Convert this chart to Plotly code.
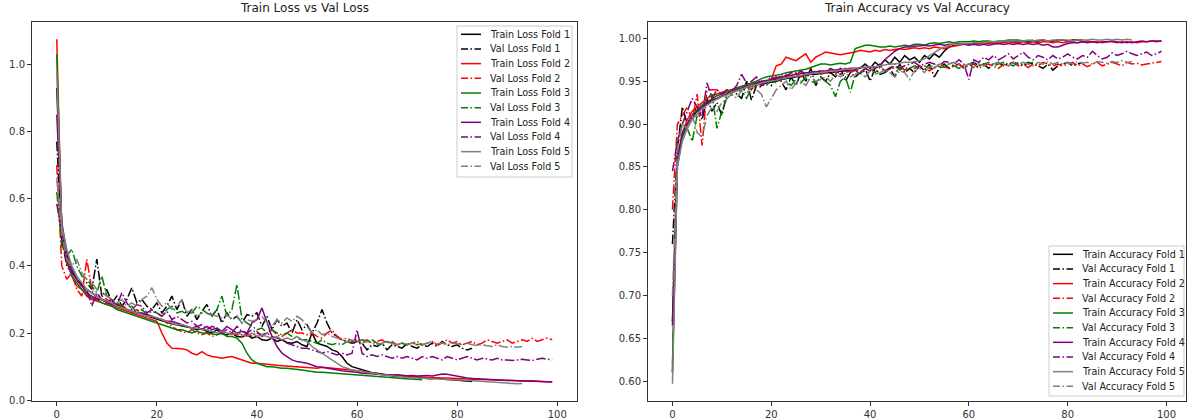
import plotly.graph_objects as go

# ---------------- data ----------------
folds = [1, 2, 3, 4, 5]
fold_colors = ["black", "red", "green", "purple", "gray"]

train_loss_f1 = [0.93, 0.52, 0.43, 0.39, 0.36, 0.345, 0.33, 0.32, 0.31, 0.30,
                 0.295, 0.29, 0.285, 0.275, 0.27, 0.265, 0.26, 0.255, 0.25, 0.245,
                 0.24, 0.235, 0.232, 0.228, 0.225, 0.22, 0.218, 0.215, 0.21, 0.212,
                 0.205, 0.2, 0.21, 0.198, 0.195, 0.2, 0.19, 0.188, 0.195, 0.185,
                 0.19, 0.18, 0.178, 0.185, 0.175, 0.18, 0.172, 0.17, 0.175, 0.165,
                 0.16, 0.2, 0.17, 0.165, 0.16, 0.15, 0.145, 0.13, 0.11, 0.1,
                 0.095, 0.09, 0.085, 0.082, 0.08, 0.078, 0.075, 0.072, 0.07, 0.072,
                 0.068, 0.07, 0.067, 0.066, 0.065, 0.064, 0.066, 0.063, 0.062, 0.061,
                 0.06, 0.058, 0.057, 0.056]
val_loss_f1 = [0.77, 0.48, 0.40, 0.38, 0.36, 0.34, 0.35, 0.33, 0.42, 0.31,
               0.33, 0.29, 0.31, 0.28, 0.30, 0.335, 0.29, 0.30, 0.28, 0.27,
               0.29, 0.26, 0.28, 0.31, 0.27, 0.30, 0.25, 0.27, 0.24, 0.265,
               0.285, 0.25, 0.27, 0.23, 0.26, 0.24, 0.25, 0.23, 0.255, 0.25,
               0.26, 0.22, 0.25, 0.21, 0.24, 0.22, 0.23, 0.2, 0.24, 0.21,
               0.225, 0.2, 0.23, 0.27, 0.23, 0.2, 0.19, 0.18, 0.175, 0.17,
               0.175, 0.17, 0.15, 0.165, 0.16, 0.17, 0.15, 0.165, 0.16, 0.155,
               0.17, 0.16, 0.155, 0.165, 0.16, 0.17, 0.16, 0.175, 0.165, 0.16,
               0.165, 0.155, 0.15, 0.155]
train_loss_f2 = [1.075, 0.5, 0.41, 0.37, 0.34, 0.33, 0.31, 0.30, 0.295, 0.29,
                 0.285, 0.28, 0.275, 0.27, 0.265, 0.26, 0.255, 0.25, 0.245, 0.24,
                 0.235, 0.2, 0.17, 0.155, 0.155, 0.153, 0.15, 0.14, 0.135, 0.145,
                 0.135, 0.13, 0.128, 0.125, 0.128, 0.13, 0.125, 0.12, 0.115, 0.11,
                 0.11, 0.108, 0.107, 0.105, 0.104, 0.103, 0.102, 0.1, 0.099, 0.1,
                 0.098, 0.097, 0.095, 0.098, 0.097, 0.096, 0.095, 0.094, 0.092, 0.09,
                 0.088, 0.085, 0.083, 0.08, 0.078, 0.076, 0.075, 0.074, 0.073, 0.072,
                 0.072, 0.071, 0.07, 0.069, 0.068, 0.068, 0.067, 0.066, 0.066, 0.065,
                 0.065, 0.064, 0.063, 0.063, 0.062, 0.062, 0.061, 0.06, 0.06, 0.06,
                 0.059, 0.059, 0.058, 0.058, 0.057, 0.058, 0.056, 0.056, 0.055, 0.055]
val_loss_f2 = [0.70, 0.40, 0.36, 0.38, 0.33, 0.31, 0.42, 0.33, 0.3, 0.31,
               0.3, 0.29, 0.28, 0.285, 0.27, 0.26, 0.27, 0.26, 0.255, 0.25,
               0.245, 0.24, 0.23, 0.22, 0.21, 0.205, 0.2, 0.21, 0.2, 0.195,
               0.2, 0.19, 0.195, 0.2, 0.19, 0.2, 0.195, 0.19, 0.2, 0.19,
               0.205, 0.19, 0.2, 0.21, 0.195, 0.19, 0.2, 0.21, 0.2, 0.2,
               0.195, 0.2, 0.19, 0.185, 0.2, 0.21, 0.19, 0.18, 0.185, 0.175,
               0.18, 0.175, 0.18, 0.17, 0.175, 0.18, 0.17, 0.175, 0.165, 0.17,
               0.165, 0.17, 0.175, 0.165, 0.17, 0.175, 0.165, 0.17, 0.18, 0.17,
               0.175, 0.165, 0.17, 0.175, 0.165, 0.17, 0.18, 0.175, 0.17, 0.175,
               0.18, 0.17, 0.175, 0.18, 0.175, 0.185, 0.175, 0.18, 0.185, 0.18]
train_loss_f3 = [1.03, 0.5, 0.42, 0.37, 0.35, 0.33, 0.315, 0.305, 0.3, 0.29,
                 0.285, 0.28, 0.27, 0.265, 0.26, 0.255, 0.25, 0.245, 0.24, 0.235,
                 0.23, 0.225, 0.22, 0.215, 0.21, 0.21, 0.205, 0.2, 0.205, 0.2,
                 0.2, 0.198, 0.195, 0.2, 0.19, 0.19, 0.185, 0.17, 0.14, 0.12,
                 0.11, 0.105, 0.1, 0.1, 0.097, 0.095, 0.095, 0.094, 0.093, 0.09,
                 0.088, 0.085, 0.083, 0.083, 0.082, 0.08, 0.08, 0.079, 0.078, 0.077,
                 0.075, 0.074, 0.073, 0.072, 0.07, 0.07, 0.069, 0.068, 0.066, 0.065,
                 0.064, 0.062, 0.062, 0.061]
val_loss_f3 = [0.62, 0.46, 0.43, 0.45, 0.40, 0.37, 0.36, 0.34, 0.32, 0.37,
               0.31, 0.3, 0.29, 0.28, 0.27, 0.28, 0.26, 0.27, 0.255, 0.265,
               0.26, 0.25, 0.27, 0.28, 0.26, 0.265, 0.255, 0.26, 0.28, 0.27,
               0.26, 0.25, 0.27, 0.31, 0.25, 0.27, 0.345, 0.24, 0.23, 0.22,
               0.21, 0.215, 0.2, 0.21, 0.2, 0.195, 0.2, 0.19, 0.185, 0.18,
               0.18, 0.175, 0.17, 0.18, 0.17, 0.165, 0.17, 0.165, 0.175, 0.17,
               0.175, 0.18, 0.175, 0.18, 0.17, 0.165, 0.175, 0.17, 0.165, 0.17,
               0.165, 0.17, 0.165, 0.168]
train_loss_f4 = [0.85, 0.53, 0.44, 0.39, 0.36, 0.34, 0.32, 0.31, 0.30, 0.3,
                 0.29, 0.285, 0.28, 0.275, 0.27, 0.265, 0.26, 0.26, 0.255, 0.25,
                 0.245, 0.24, 0.235, 0.235, 0.23, 0.225, 0.22, 0.215, 0.22, 0.21,
                 0.22, 0.21, 0.215, 0.205, 0.22, 0.21, 0.2, 0.205, 0.2, 0.23,
                 0.24, 0.275, 0.23, 0.19, 0.16, 0.14, 0.13, 0.12, 0.115, 0.113,
                 0.11, 0.105, 0.1, 0.098, 0.095, 0.092, 0.09, 0.088, 0.086, 0.085,
                 0.083, 0.08, 0.079, 0.078, 0.077, 0.076, 0.077, 0.075, 0.076, 0.074,
                 0.073, 0.074, 0.072, 0.073, 0.074, 0.072, 0.075, 0.078, 0.077, 0.074,
                 0.07, 0.068, 0.066, 0.065, 0.064, 0.063, 0.062, 0.061, 0.06, 0.06,
                 0.059, 0.058, 0.058, 0.057, 0.057, 0.056, 0.056, 0.055, 0.055, 0.054]
val_loss_f4 = [0.585, 0.5, 0.41, 0.38, 0.36, 0.34, 0.33, 0.28, 0.32, 0.3,
               0.29, 0.3, 0.28, 0.32, 0.29, 0.27, 0.285, 0.28, 0.26, 0.27,
               0.26, 0.25, 0.265, 0.24, 0.25, 0.24, 0.23, 0.235, 0.22, 0.225,
               0.21, 0.22, 0.215, 0.2, 0.21, 0.2, 0.22, 0.205, 0.2, 0.21,
               0.2, 0.195, 0.2, 0.19, 0.185, 0.18, 0.17, 0.165, 0.16, 0.155,
               0.155, 0.15, 0.145, 0.14, 0.145, 0.14, 0.135, 0.14, 0.135, 0.14,
               0.21, 0.14, 0.13, 0.135, 0.13, 0.135, 0.13, 0.125, 0.13, 0.125,
               0.13, 0.125, 0.12, 0.13, 0.125, 0.13, 0.125, 0.12, 0.13, 0.125,
               0.12, 0.125, 0.13, 0.125, 0.12, 0.125, 0.122, 0.12, 0.125, 0.12,
               0.12, 0.118, 0.12, 0.122, 0.12, 0.118, 0.122, 0.125, 0.122, 0.12]
train_loss_f5 = [0.98, 0.52, 0.45, 0.4, 0.37, 0.35, 0.33, 0.32, 0.31, 0.3,
                 0.295, 0.29, 0.28, 0.275, 0.27, 0.265, 0.26, 0.255, 0.25, 0.25,
                 0.245, 0.24, 0.235, 0.23, 0.225, 0.225, 0.22, 0.215, 0.215, 0.21,
                 0.21, 0.205, 0.2, 0.205, 0.2, 0.195, 0.2, 0.195, 0.19, 0.2,
                 0.19, 0.195, 0.19, 0.185, 0.19, 0.18, 0.185, 0.18, 0.19, 0.18,
                 0.175, 0.16, 0.15, 0.14, 0.13, 0.12, 0.11, 0.1, 0.095, 0.09,
                 0.088, 0.085, 0.082, 0.08, 0.078, 0.076, 0.074, 0.072, 0.07, 0.07,
                 0.068, 0.067, 0.066, 0.066, 0.065, 0.064, 0.063, 0.062, 0.062, 0.061,
                 0.06, 0.06, 0.059, 0.058, 0.058, 0.057, 0.056, 0.055, 0.052, 0.051,
                 0.05, 0.05, 0.049, 0.05]
val_loss_f5 = [0.66, 0.5, 0.42, 0.4, 0.42, 0.38, 0.36, 0.35, 0.33, 0.32,
               0.31, 0.3, 0.29, 0.3, 0.28, 0.29, 0.28, 0.3, 0.31, 0.335,
               0.3, 0.28, 0.29, 0.27, 0.28, 0.3, 0.26, 0.27, 0.25, 0.26,
               0.26, 0.255, 0.25, 0.245, 0.255, 0.24, 0.25, 0.23, 0.24, 0.235,
               0.24, 0.25, 0.23, 0.22, 0.24, 0.23, 0.245, 0.235, 0.25, 0.24,
               0.22, 0.2, 0.21, 0.195, 0.2, 0.19, 0.185, 0.18, 0.175, 0.18,
               0.175, 0.17, 0.175, 0.17, 0.165, 0.17, 0.175, 0.17, 0.165, 0.17,
               0.165, 0.17, 0.168, 0.165, 0.17, 0.175, 0.168, 0.17, 0.165, 0.17,
               0.168, 0.165, 0.17, 0.165, 0.163, 0.165, 0.162, 0.16, 0.165, 0.16,
               0.158, 0.16, 0.158, 0.16]

train_acc_f1 = [0.67, 0.86, 0.885, 0.9, 0.908, 0.915, 0.92, 0.924, 0.928, 0.93,
                0.932, 0.935, 0.937, 0.939, 0.941, 0.943, 0.944, 0.946, 0.947, 0.948,
                0.949, 0.95, 0.952, 0.953, 0.954, 0.955, 0.956, 0.957, 0.958, 0.958,
                0.959, 0.96, 0.96, 0.961, 0.962, 0.962, 0.963, 0.964, 0.965, 0.97,
                0.965, 0.972, 0.968, 0.975, 0.97, 0.978, 0.972, 0.98, 0.975, 0.978,
                0.972, 0.98, 0.976, 0.982, 0.978, 0.985, 0.99, 0.992, 0.993, 0.993,
                0.993, 0.994, 0.994, 0.995, 0.996, 0.995, 0.996, 0.996, 0.997, 0.996,
                0.997, 0.997, 0.996, 0.997, 0.997, 0.998, 0.997, 0.997, 0.998, 0.998,
                0.997, 0.998, 0.998, 0.998]
val_acc_f1 = [0.76, 0.87, 0.92, 0.9, 0.91, 0.92, 0.905, 0.93, 0.915, 0.925,
              0.91, 0.935, 0.94, 0.935, 0.93, 0.95, 0.928, 0.945, 0.943, 0.95,
              0.945, 0.955, 0.95, 0.94, 0.955, 0.945, 0.96, 0.95, 0.965, 0.945,
              0.955, 0.95, 0.96, 0.955, 0.965, 0.95, 0.96, 0.955, 0.96, 0.965,
              0.95, 0.965, 0.958, 0.96, 0.965, 0.955, 0.97, 0.96, 0.965, 0.96,
              0.968, 0.962, 0.97, 0.955, 0.965, 0.97, 0.965, 0.968, 0.97, 0.965,
              0.97, 0.972, 0.968, 0.97, 0.965, 0.97, 0.972, 0.968, 0.97, 0.972,
              0.97, 0.968, 0.972, 0.97, 0.968, 0.965, 0.97, 0.963, 0.968, 0.97,
              0.972, 0.968, 0.97, 0.972]
train_acc_f2 = [0.61, 0.855, 0.89, 0.905, 0.915, 0.92, 0.925, 0.93, 0.933, 0.935,
                0.937, 0.939, 0.94, 0.942, 0.944, 0.945, 0.946, 0.948, 0.949, 0.95,
                0.952, 0.968, 0.97, 0.978, 0.976, 0.974, 0.978, 0.982, 0.972, 0.978,
                0.981, 0.984, 0.983, 0.982, 0.981, 0.982, 0.983, 0.984, 0.986, 0.985,
                0.984, 0.986, 0.985, 0.987, 0.986, 0.987, 0.988, 0.987, 0.988, 0.989,
                0.988, 0.989, 0.988, 0.99, 0.989, 0.988, 0.99, 0.991, 0.992, 0.993,
                0.994, 0.993, 0.994, 0.995, 0.994, 0.995, 0.994, 0.995, 0.996, 0.995,
                0.995, 0.996, 0.995, 0.996, 0.995, 0.996, 0.996, 0.995, 0.996, 0.995,
                0.996, 0.996, 0.995, 0.996, 0.997, 0.996, 0.996, 0.995, 0.996, 0.996,
                0.995, 0.996, 0.995, 0.996, 0.995, 0.996, 0.996, 0.997, 0.996, 0.997]
val_acc_f2 = [0.80, 0.9, 0.91, 0.92, 0.905, 0.935, 0.875, 0.94, 0.94, 0.94,
              0.935, 0.94, 0.935, 0.942, 0.94, 0.945, 0.94, 0.948, 0.945, 0.95,
              0.952, 0.955, 0.95, 0.958, 0.955, 0.96, 0.955, 0.96, 0.958, 0.962,
              0.958, 0.96, 0.962, 0.958, 0.965, 0.96, 0.962, 0.965, 0.96, 0.965,
              0.962, 0.965, 0.968, 0.962, 0.966, 0.965, 0.968, 0.963, 0.966, 0.965,
              0.968, 0.965, 0.962, 0.966, 0.97, 0.967, 0.965, 0.968, 0.97, 0.966,
              0.968, 0.97, 0.965, 0.968, 0.97, 0.967, 0.965, 0.97, 0.968, 0.972,
              0.968, 0.97, 0.966, 0.97, 0.968, 0.972, 0.97, 0.968, 0.97, 0.968,
              0.97, 0.972, 0.968, 0.97, 0.967, 0.97, 0.972, 0.968, 0.97, 0.972,
              0.97, 0.968, 0.972, 0.97, 0.971, 0.969, 0.97, 0.971, 0.972, 0.973]
train_acc_f3 = [0.62, 0.85, 0.885, 0.9, 0.91, 0.917, 0.922, 0.926, 0.93, 0.933,
                0.935, 0.937, 0.94, 0.942, 0.944, 0.946, 0.948, 0.95, 0.953, 0.955,
                0.956, 0.957, 0.958, 0.96, 0.961, 0.962, 0.963, 0.964, 0.966, 0.968,
                0.97, 0.97, 0.969, 0.97, 0.971, 0.97, 0.972, 0.988, 0.99, 0.992,
                0.992, 0.991, 0.99, 0.99, 0.991, 0.99, 0.991, 0.992, 0.991, 0.993,
                0.993, 0.992, 0.994, 0.995, 0.994, 0.995, 0.996, 0.995, 0.996, 0.996,
                0.996, 0.997, 0.996, 0.997, 0.997, 0.996, 0.997, 0.997, 0.998, 0.998,
                0.998, 0.997, 0.997, 0.998]
val_acc_f3 = [0.61, 0.88, 0.9, 0.895, 0.88, 0.91, 0.92, 0.93, 0.935, 0.895,
              0.915, 0.93, 0.935, 0.94, 0.938, 0.93, 0.942, 0.945, 0.95, 0.945,
              0.952, 0.948, 0.955, 0.95, 0.945, 0.952, 0.948, 0.955, 0.95, 0.948,
              0.955, 0.95, 0.945, 0.932, 0.95, 0.955, 0.937, 0.958, 0.96, 0.962,
              0.965, 0.96, 0.966, 0.962, 0.965, 0.968, 0.963, 0.966, 0.965, 0.968,
              0.966, 0.968, 0.965, 0.97, 0.967, 0.966, 0.97, 0.968, 0.965, 0.968,
              0.97, 0.966, 0.968, 0.97, 0.972, 0.968, 0.97, 0.972, 0.97, 0.968,
              0.972, 0.97, 0.971, 0.972]
train_acc_f4 = [0.665, 0.86, 0.89, 0.9, 0.91, 0.915, 0.92, 0.925, 0.928, 0.93,
                0.933, 0.935, 0.937, 0.94, 0.942, 0.944, 0.946, 0.948, 0.95, 0.951,
                0.952, 0.953, 0.955, 0.956, 0.957, 0.958, 0.959, 0.96, 0.96, 0.961,
                0.962, 0.962, 0.963, 0.963, 0.964, 0.964, 0.965, 0.965, 0.966, 0.966,
                0.967, 0.966, 0.968, 0.975, 0.98, 0.985, 0.988, 0.99, 0.99, 0.991,
                0.991, 0.992, 0.991, 0.992, 0.993, 0.992, 0.993, 0.993, 0.994, 0.993,
                0.992, 0.993, 0.992, 0.993, 0.992, 0.993, 0.994, 0.993, 0.994, 0.993,
                0.994, 0.993, 0.994, 0.993, 0.994, 0.992, 0.993, 0.99, 0.99, 0.992,
                0.994, 0.995, 0.995, 0.996, 0.995, 0.996, 0.995, 0.996, 0.996, 0.997,
                0.996, 0.995, 0.996, 0.995, 0.996, 0.997, 0.996, 0.997, 0.997, 0.997]
val_acc_f4 = [0.845, 0.88, 0.9, 0.915, 0.93, 0.92, 0.91, 0.948, 0.93, 0.94,
              0.935, 0.94, 0.938, 0.945, 0.958, 0.948, 0.95, 0.955, 0.945, 0.95,
              0.955, 0.952, 0.958, 0.955, 0.96, 0.958, 0.962, 0.958, 0.962, 0.96,
              0.962, 0.96, 0.965, 0.962, 0.958, 0.965, 0.96, 0.963, 0.958, 0.965,
              0.962, 0.965, 0.97, 0.96, 0.965, 0.97, 0.965, 0.968, 0.97, 0.972,
              0.968, 0.97, 0.972, 0.97, 0.968, 0.973, 0.972, 0.97, 0.975, 0.97,
              0.952, 0.975, 0.972, 0.978, 0.975, 0.98, 0.975, 0.978, 0.982, 0.976,
              0.98, 0.984, 0.978, 0.975, 0.98, 0.978, 0.975, 0.98, 0.976, 0.978,
              0.982, 0.978, 0.976, 0.98, 0.978, 0.985, 0.98, 0.976, 0.978, 0.983,
              0.98, 0.982, 0.985, 0.982, 0.98, 0.982, 0.984, 0.98, 0.982, 0.985]
train_acc_f5 = [0.597, 0.85, 0.88, 0.895, 0.905, 0.912, 0.918, 0.922, 0.926, 0.929,
                0.932, 0.934, 0.937, 0.939, 0.941, 0.943, 0.945, 0.946, 0.948, 0.949,
                0.95, 0.951, 0.953, 0.954, 0.955, 0.956, 0.957, 0.958, 0.959, 0.96,
                0.96, 0.961, 0.962, 0.962, 0.963, 0.964, 0.964, 0.965, 0.966, 0.966,
                0.967, 0.967, 0.968, 0.969, 0.97, 0.97, 0.971, 0.972, 0.972, 0.973,
                0.974, 0.976, 0.98, 0.984, 0.987, 0.99, 0.992, 0.993, 0.993, 0.994,
                0.994, 0.995, 0.995, 0.995, 0.996, 0.996, 0.996, 0.997, 0.997, 0.997,
                0.997, 0.997, 0.998, 0.997, 0.998, 0.998, 0.997, 0.998, 0.998, 0.998,
                0.998, 0.997, 0.998, 0.998, 0.998, 0.999, 0.998, 0.998, 0.999, 0.998,
                0.999, 0.998, 0.999, 0.998]
val_acc_f5 = [0.7, 0.87, 0.9, 0.895, 0.91, 0.89, 0.885, 0.91, 0.92, 0.915,
              0.925, 0.93, 0.935, 0.93, 0.94, 0.935, 0.945, 0.94, 0.935, 0.92,
              0.93, 0.94, 0.945, 0.95, 0.94, 0.948, 0.95, 0.945, 0.955, 0.95,
              0.952, 0.955, 0.95, 0.958, 0.955, 0.96, 0.955, 0.958, 0.96, 0.955,
              0.962, 0.958, 0.96, 0.963, 0.96, 0.955, 0.962, 0.96, 0.952, 0.962,
              0.965, 0.96, 0.968, 0.965, 0.97, 0.968, 0.97, 0.972, 0.97, 0.968,
              0.97, 0.972, 0.97, 0.968, 0.972, 0.97, 0.972, 0.97, 0.968, 0.972,
              0.97, 0.972, 0.97, 0.968, 0.972, 0.97, 0.973, 0.97, 0.972, 0.97,
              0.972, 0.97, 0.973, 0.971, 0.972, 0.97, 0.973, 0.972, 0.971, 0.973,
              0.972, 0.974, 0.972, 0.973]

train_losses = [train_loss_f1, train_loss_f2, train_loss_f3, train_loss_f4, train_loss_f5]
val_losses = [val_loss_f1, val_loss_f2, val_loss_f3, val_loss_f4, val_loss_f5]
train_accs = [train_acc_f1, train_acc_f2, train_acc_f3, train_acc_f4, train_acc_f5]
val_accs = [val_acc_f1, val_acc_f2, val_acc_f3, val_acc_f4, val_acc_f5]

# ---------------- figure ----------------
W, H = 1188, 419
FONT = "DejaVu Sans"
DASHDOT = "9.6px,2.4px,1.5px,2.4px"
LEG_DASHDOT = "7px,2.5px,1.5px,2.5px"

fig = go.Figure()

def add(xref, yref, ys, name, color, dash):
    fig.add_trace(go.Scatter(
        x=list(range(len(ys))), y=ys, name=name, mode="lines",
        line=dict(color=color, width=1.5, dash=dash),
        xaxis=xref, yaxis=yref, showlegend=False))

for f, c, tl, vl in zip(folds, fold_colors, train_losses, val_losses):
    add("x", "y", tl, f"Train Loss Fold {f}", c, "solid")
    add("x", "y", vl, f"Val Loss Fold {f}", c, DASHDOT)
for f, c, ta, va in zip(folds, fold_colors, train_accs, val_accs):
    add("x2", "y2", ta, f"Train Accuracy Fold {f}", c, "solid")
    add("x2", "y2", va, f"Val Accuracy Fold {f}", c, DASHDOT)

def mrange(series_list):
    lo = min(min(s) for s in series_list)
    hi = max(max(s) for s in series_list)
    m = (hi - lo) * 0.05
    return [lo - m, hi + m]

xmax = max(len(s) for s in train_losses) - 1
xr = [-0.05 * xmax, xmax * 1.05]

axis_common = dict(showgrid=False, zeroline=False, showline=True, mirror=True,
                   linecolor="#333333", linewidth=1, ticks="outside", ticklen=4,
                   tickcolor="#333333", automargin=False,
                   tickfont=dict(family=FONT, size=10, color="#333333"))

# plot frames in page pixels
L1, R1 = 32, 577
L2, R2 = 648, 1186
TOP, BOT = 22, 401

def fx(x):
    return x / W

def fy(y):
    return 1 - y / H

shapes = []
annotations = []

def legend_box(x0, y0, x1, y1, row0, handle_x0, handle_x1, text_x, labels, colors, dashes):
    shapes.append(dict(type="rect", xref="paper", yref="paper",
                       x0=fx(x0), x1=fx(x1), y0=fy(y1), y1=fy(y0),
                       fillcolor="rgba(255,255,255,0.8)", line=dict(color="#cccccc", width=1),
                       layer="above"))
    step = 14.67
    for i, (lab, col, dsh) in enumerate(zip(labels, colors, dashes)):
        yy = row0 + i * step
        shapes.append(dict(type="line", xref="paper", yref="paper",
                           x0=fx(handle_x0), x1=fx(handle_x1), y0=fy(yy), y1=fy(yy),
                           line=dict(color=col, width=1.5, dash=dsh), layer="above"))
        annotations.append(dict(text=lab, xref="paper", yref="paper",
                                x=fx(text_x), y=fy(yy), align="left",
                                xanchor="left", yanchor="middle", showarrow=False,
                                font=dict(family=FONT, size=9.6, color="#222222")))

loss_labels, acc_labels, leg_colors, leg_dashes = [], [], [], []
for f, c in zip(folds, fold_colors):
    loss_labels += [f"Train Loss Fold {f}", f"Val Loss Fold {f}"]
    acc_labels += [f"Train Accuracy Fold {f}", f"Val Accuracy Fold {f}"]
    leg_colors += [c, c]
    leg_dashes += ["solid", LEG_DASHDOT]

legend_box(457, 26, 572, 177, 34.3, 461, 481, 488, loss_labels, leg_colors, leg_dashes)
legend_box(1049, 246, 1184, 396, 254.3, 1053, 1073, 1080, acc_labels, leg_colors, leg_dashes)

annotations += [
    dict(text="Train Loss vs Val Loss", x=fx((L1 + R1) / 2), y=fy(TOP - 5),
         xref="paper", yref="paper", xanchor="center", yanchor="bottom",
         showarrow=False, font=dict(family=FONT, size=12, color="#222222")),
    dict(text="Train Accuracy vs Val Accuracy", x=fx((L2 + R2) / 2), y=fy(TOP - 5),
         xref="paper", yref="paper", xanchor="center", yanchor="bottom",
         showarrow=False, font=dict(family=FONT, size=12, color="#222222")),
]

y_dom = [fy(BOT), fy(TOP)]
fig.update_layout(
    width=W, height=H, margin=dict(l=0, r=0, t=0, b=0),
    paper_bgcolor="white", plot_bgcolor="white",
    font=dict(family=FONT, size=10, color="#222222"),
    showlegend=False,
    xaxis=dict(domain=[fx(L1), fx(R1)], range=xr, tickvals=[0, 20, 40, 60, 80, 100], **axis_common),
    yaxis=dict(domain=y_dom, range=mrange(train_losses + val_losses),
               tickvals=[0.0, 0.2, 0.4, 0.6, 0.8, 1.0], tickformat=".1f", **axis_common),
    xaxis2=dict(domain=[fx(L2), fx(R2)], range=xr, tickvals=[0, 20, 40, 60, 80, 100],
                anchor="y2", **axis_common),
    yaxis2=dict(domain=y_dom, range=mrange(train_accs + val_accs), anchor="x2",
                tickvals=[0.60, 0.65, 0.70, 0.75, 0.80, 0.85, 0.90, 0.95, 1.00],
                tickformat=".2f", **axis_common),
    shapes=shapes,
    annotations=annotations,
)

# remove the browser's default 8px body margin so the figure fills the window exactly
fig.write_html("out.html", config={"displayModeBar": False},
               post_script="document.body.style.margin='0';document.body.style.overflow='hidden';")
